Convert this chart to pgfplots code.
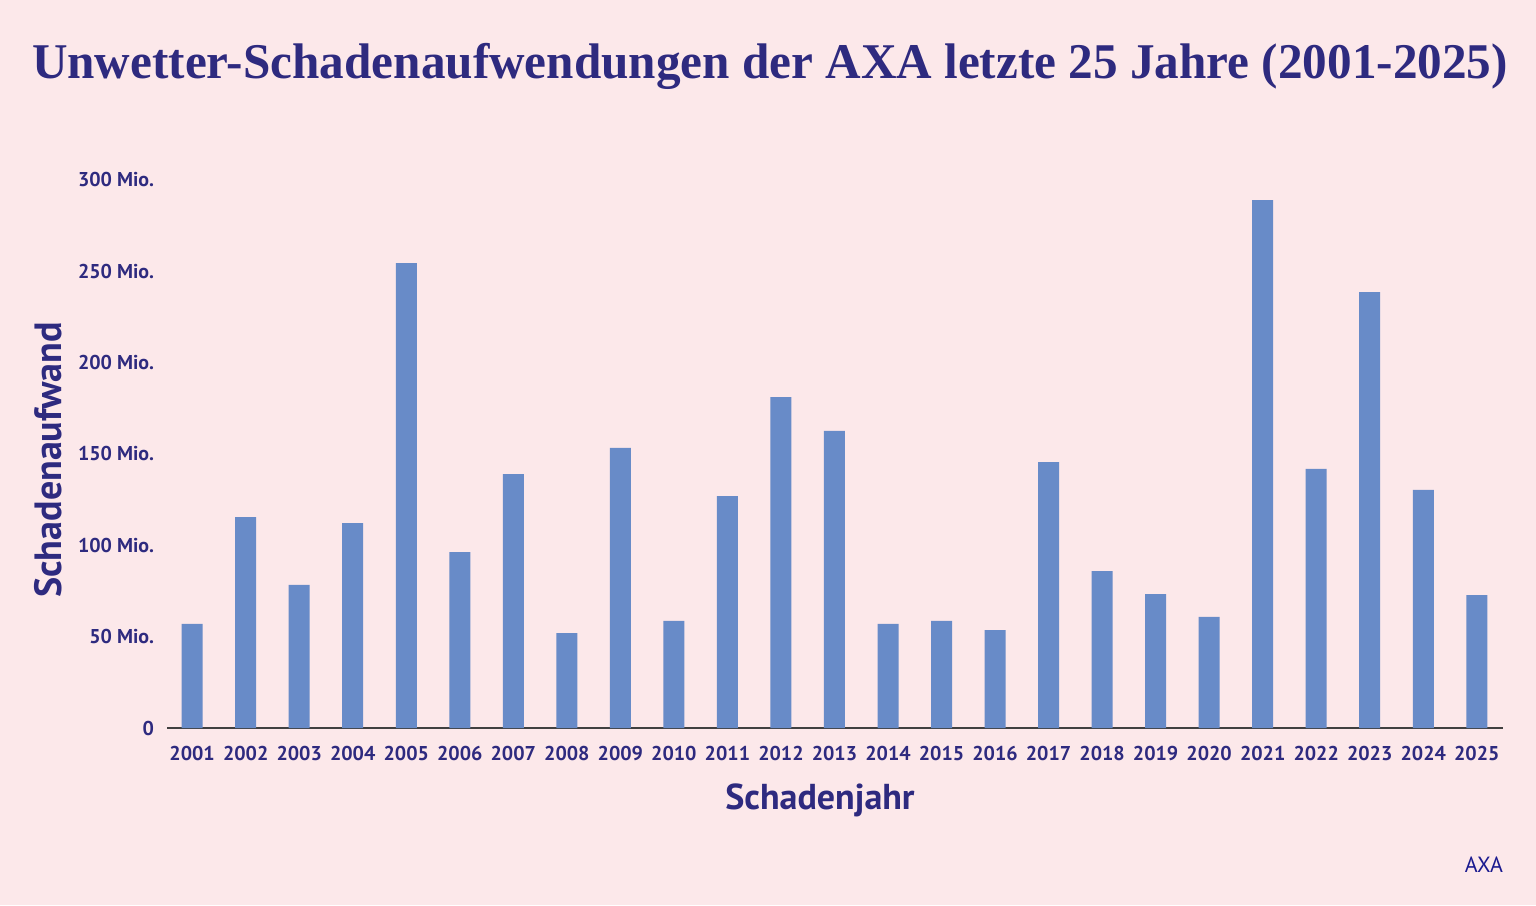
\documentclass[border=0pt]{standalone}
\usepackage{fontspec}
\setmainfont{PT Sans}
\newfontfamily\titlefont{Liberation Serif}
\usepackage{pgfplots}
\pgfplotsset{compat=1.18}
\definecolor{bg}{HTML}{FCE8EA}
\definecolor{ink}{HTML}{2E2A7F}
\definecolor{barc}{HTML}{688BC8}
\definecolor{axablue}{HTML}{1B1A8F}
\pgfplotstableread{
idx value
0 57
1 115.5
2 78.3
3 112.2
4 254.5
5 96.3
6 139
7 52
8 153.3
9 58.6
10 127
11 181.2
12 162.6
13 57
14 58.6
15 53.6
16 145.6
17 85.9
18 73.3
19 60.8
20 289
21 141.8
22 238.6
23 130.3
24 72.8
}\datatable
\begin{document}
\begin{tikzpicture}
\fill[bg] (0,0) rectangle (768pt,452.5pt);
\begin{axis}[
  at={(83.5pt,88.5pt)}, anchor=south west,
  width=668pt, height=274pt, scale only axis,
  xmin=-0.47, xmax=24.49, ymin=0, ymax=300,
  axis x line=bottom, axis y line=left,
  x axis line style={-, draw=black!75, line width=0.6pt},
  y axis line style={draw=none},
  major tick length=0pt,
  tick style={draw=none},
  xtick={0,...,24},
  xticklabels={2001,2002,2003,2004,2005,2006,2007,2008,2009,2010,2011,2012,2013,2014,2015,2016,2017,2018,2019,2020,2021,2022,2023,2024,2025},
  ytick={0,50,100,150,200,250,300},
  yticklabels={0,50 Mio.,100 Mio.,150 Mio.,200 Mio.,250 Mio.,300 Mio.},
  ticklabel style={font=\fontsize{10}{12}\selectfont\bfseries, text=ink},
  yticklabel style={xshift=-3pt},
  xticklabel style={yshift=-5.5pt},
  clip=false,
]
\addplot[ybar, bar width=10.5pt, fill=barc, draw=none] table[x=idx, y=value] {\datatable};
\end{axis}
\node[text=ink, font=\titlefont\bfseries\fontsize{25}{30}\selectfont] at (385pt,419.5pt) {\scalebox{0.984}[1]{Unwetter-Schadenaufwendungen der AXA letzte 25 Jahre (2001-2025)}};
\node[text=ink, font=\fontsize{19}{22}\selectfont\bfseries, rotate=90] at (24pt,222.5pt) {Schadenaufwand};
\node[text=ink, font=\fontsize{18}{21}\selectfont\bfseries] at (410pt,52.5pt) {Schadenjahr};
\node[text=axablue, font=\fontsize{11}{13}\selectfont, anchor=east] at (755pt,20pt) {AXA};
\end{tikzpicture}
\end{document}
